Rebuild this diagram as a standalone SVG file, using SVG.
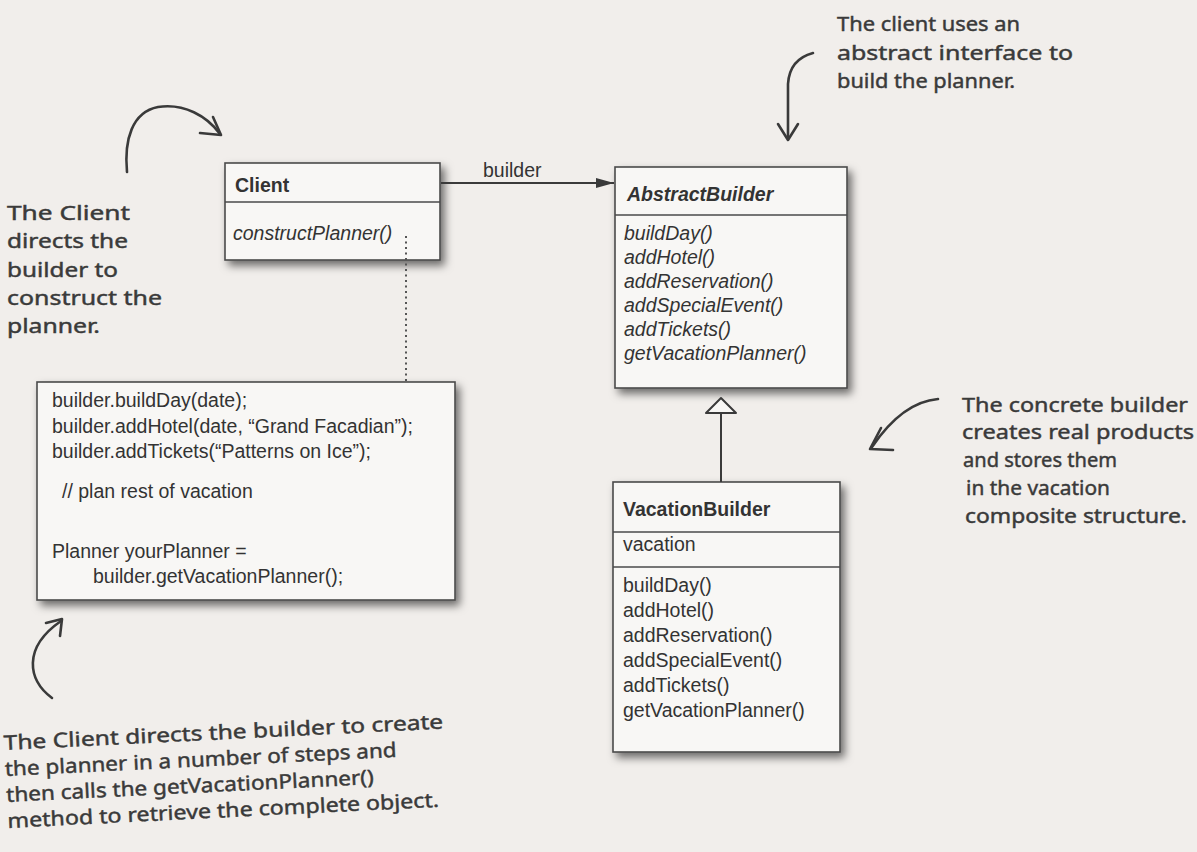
<svg xmlns="http://www.w3.org/2000/svg" width="1197" height="852" viewBox="0 0 1197 852">
  <defs>
    <filter id="shadow" x="-10%" y="-10%" width="130%" height="130%">
      <feDropShadow dx="4" dy="5" stdDeviation="4" flood-color="#000" flood-opacity="0.55"/>
    </filter>
    <marker id="filled" markerWidth="20" markerHeight="12" refX="18" refY="6" orient="auto" markerUnits="userSpaceOnUse">
      <path d="M0,1 L18,6 L0,11 Z" fill="#3a3a3a"/>
    </marker>
    <style>
      .box { fill: #f8f7f5; stroke: #4a4a4a; stroke-width: 1.6; filter: url(#shadow); }
      .div { stroke: #4a4a4a; stroke-width: 1.4; }
      .uml { font-family: "Liberation Sans", Arial, sans-serif; font-size: 19.5px; fill: #333; }
      .title { font-weight: bold; }
      .it { font-style: italic; }
      .hand { font-family: "Noto Sans", "DejaVu Sans", sans-serif; font-size: 20px; fill: #3a3a3a; stroke: #3a3a3a; stroke-width: 0.45; }
      .pen { fill: none; stroke: #3a3a3a; stroke-width: 2.6; stroke-linecap: round; stroke-linejoin: round; }
      .conn { fill: none; stroke: #3a3a3a; stroke-width: 2; }
    </style>
  </defs>

  <rect x="0" y="0" width="1197" height="852" fill="#f1eeeb"/>

  <!-- Client -->
  <g id="client">
    <rect class="box" x="225" y="163" width="215" height="97"/>
    <line class="div" x1="225" y1="202" x2="440" y2="202"/>
    <text class="uml title" x="235" y="192">Client</text>
    <text class="uml it" x="233" y="240">constructPlanner()</text>
  </g>

  <!-- Code note -->
  <g id="code-note">
    <rect class="box" x="37" y="382" width="418" height="218"/>
    <text class="uml" x="52" y="407">builder.buildDay(date);</text>
    <text class="uml" x="52" y="433">builder.addHotel(date, “Grand Facadian”);</text>
    <text class="uml" x="52" y="458">builder.addTickets(“Patterns on Ice”);</text>
    <text class="uml" x="62" y="498">// plan rest of vacation</text>
    <text class="uml" x="52" y="558">Planner yourPlanner =</text>
    <text class="uml" x="93" y="583">builder.getVacationPlanner();</text>
  </g>

  <!-- AbstractBuilder -->
  <g id="abstract-builder">
    <rect class="box" x="615" y="167" width="232" height="221"/>
    <line class="div" x1="615" y1="215" x2="847" y2="215"/>
    <text class="uml title it" x="627" y="201">AbstractBuilder</text>
    <text class="uml it" x="624" y="240">buildDay()</text>
    <text class="uml it" x="624" y="264">addHotel()</text>
    <text class="uml it" x="624" y="288">addReservation()</text>
    <text class="uml it" x="624" y="312">addSpecialEvent()</text>
    <text class="uml it" x="624" y="336">addTickets()</text>
    <text class="uml it" x="624" y="360">getVacationPlanner()</text>
  </g>

  <!-- VacationBuilder -->
  <g id="vacation-builder">
    <rect class="box" x="613" y="482" width="227" height="270"/>
    <line class="div" x1="613" y1="532" x2="840" y2="532"/>
    <line class="div" x1="613" y1="567" x2="840" y2="567"/>
    <text class="uml title" x="623" y="516">VacationBuilder</text>
    <text class="uml" x="623" y="551">vacation</text>
    <text class="uml" x="623" y="592">buildDay()</text>
    <text class="uml" x="623" y="617">addHotel()</text>
    <text class="uml" x="623" y="642">addReservation()</text>
    <text class="uml" x="623" y="667">addSpecialEvent()</text>
    <text class="uml" x="623" y="692">addTickets()</text>
    <text class="uml" x="623" y="717">getVacationPlanner()</text>
  </g>

  <!-- Connectors -->
  <g id="connectors">
    <line class="conn" x1="441" y1="183" x2="614" y2="183" marker-end="url(#filled)"/>
    <text class="uml" x="483" y="177" font-size="20">builder</text>
    <line x1="406" y1="236" x2="406" y2="381" stroke="#555" stroke-width="2" stroke-dasharray="2 3.5"/>
    <line class="conn" x1="721" y1="413" x2="721" y2="482"/>
    <path d="M721,398 L706,413 L736,413 Z" fill="#f8f7f5" stroke="#3a3a3a" stroke-width="2" stroke-linejoin="round"/>
  </g>

  <!-- Annotation: top-left -->
  <g id="note-client-directs">
    <path class="pen" d="M127,172 C124,140 132,112 158,107 C184,103 207,116 220,134"/>
    <path class="pen" d="M213,117 L221,135 L200,133"/>
    <text class="hand" x="7" y="220" textLength="123" lengthAdjust="spacingAndGlyphs">The Client</text>
    <text class="hand" x="7" y="248" textLength="121" lengthAdjust="spacingAndGlyphs">directs the</text>
    <text class="hand" x="7" y="277" textLength="111" lengthAdjust="spacingAndGlyphs">builder to</text>
    <text class="hand" x="7" y="305" textLength="155" lengthAdjust="spacingAndGlyphs">construct the</text>
    <text class="hand" x="7" y="333" textLength="93" lengthAdjust="spacingAndGlyphs">planner.</text>
  </g>

  <!-- Annotation: top-right -->
  <g id="note-abstract-interface">
    <path class="pen" d="M813,53 C798,57 789,67 788,84 L788,138"/>
    <path class="pen" d="M778,124 L788,140 L798,124"/>
    <text class="hand" x="837" y="31" textLength="183" lengthAdjust="spacingAndGlyphs">The client uses an</text>
    <text class="hand" x="837" y="60" textLength="236" lengthAdjust="spacingAndGlyphs">abstract interface to</text>
    <text class="hand" x="837" y="88" textLength="178" lengthAdjust="spacingAndGlyphs">build the planner.</text>
  </g>

  <!-- Annotation: right -->
  <g id="note-concrete-builder">
    <path class="pen" d="M938,399 C914,401 893,416 872,447"/>
    <path class="pen" d="M881,428 L870,449 L893,450"/>
    <text class="hand" x="962" y="412" textLength="226" lengthAdjust="spacingAndGlyphs">The concrete builder</text>
    <text class="hand" x="962" y="439" textLength="232" lengthAdjust="spacingAndGlyphs">creates real products</text>
    <text class="hand" x="963" y="467" textLength="154" lengthAdjust="spacingAndGlyphs">and stores them</text>
    <text class="hand" x="966" y="495" textLength="144" lengthAdjust="spacingAndGlyphs">in the vacation</text>
    <text class="hand" x="965" y="523" textLength="222" lengthAdjust="spacingAndGlyphs">composite structure.</text>
  </g>

  <!-- Annotation: bottom-left -->
  <g id="note-steps">
    <path class="pen" d="M52,698 C28,680 22,648 61,621"/>
    <path class="pen" d="M46,623 L62,619 L60,636"/>
    <g transform="rotate(-2.8 4 750)">
      <text class="hand" x="4" y="750" textLength="440" lengthAdjust="spacingAndGlyphs">The Client directs the builder to create</text>
      <text class="hand" x="4" y="776" textLength="392" lengthAdjust="spacingAndGlyphs">the planner in a number of steps and</text>
      <text class="hand" x="4" y="802" textLength="368" lengthAdjust="spacingAndGlyphs">then calls the getVacationPlanner()</text>
      <text class="hand" x="4" y="828" textLength="432" lengthAdjust="spacingAndGlyphs">method to retrieve the complete object.</text>
    </g>
  </g>
</svg>
